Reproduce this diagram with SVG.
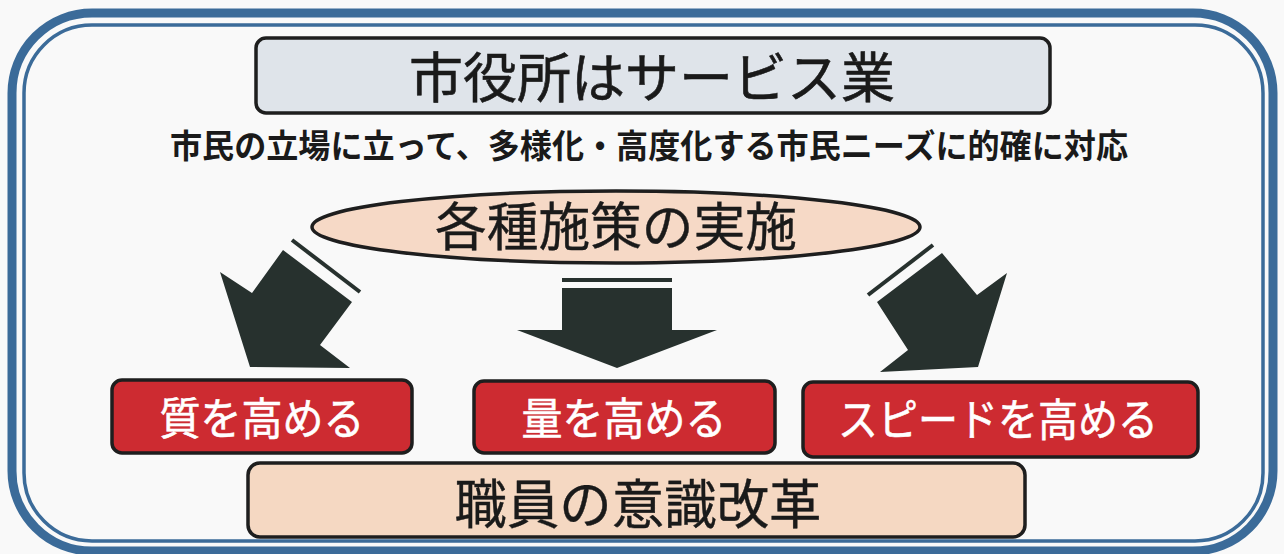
<svg xmlns="http://www.w3.org/2000/svg" width="1284" height="554" viewBox="0 0 1284 554">
<style>
.jp{font-family:"Noto Sans CJK JP","Noto Sans CJK SC",sans-serif;}
.box{stroke:#1e1e1e;stroke-width:3.5;}
.red{fill:#cd2b31;}
.wt{fill:#ffffff;font-size:44px;}
.arrow{fill:#27312e;}
.bar{stroke:#27312e;stroke-width:4;}
</style>
<rect x="0" y="0" width="1284" height="554" fill="#f9f9f9"/>
<g id="frame" fill="none" stroke="#3b6b99">
<rect x="12" y="13" width="1261" height="538" rx="80" stroke-width="9"/>
<rect x="24" y="25" width="1239" height="516" rx="68" stroke-width="3.5"/>
</g>
<g id="title">
<rect class="box" x="256" y="38" width="794" height="75" rx="10" fill="#dfe4ea"/>
<text class="jp" x="652" y="98" font-size="54" text-anchor="middle" fill="#1a1a1a" stroke="#1a1a1a" stroke-width="0.6" textLength="486" lengthAdjust="spacingAndGlyphs">市役所はサービス業</text>
</g>
<g id="subtitle">
<text class="jp" x="649" y="158" font-size="33" style="font-weight:bold" text-anchor="middle" fill="#1a1a1a" textLength="958" lengthAdjust="spacingAndGlyphs">市民の立場に立って、多様化・高度化する市民ニーズに的確に対応</text>
</g>
<g id="measures">
<ellipse class="box" cx="616" cy="227" rx="304" ry="36" fill="#f6d9c6" stroke-width="3"/>
<text class="jp" x="616" y="246" font-size="52" text-anchor="middle" fill="#1a1a1a" stroke="#1a1a1a" stroke-width="0.4" textLength="362" lengthAdjust="spacingAndGlyphs">各種施策の実施</text>
</g>
<g id="connectors">
<line class="bar" x1="292" y1="240" x2="360" y2="292"/>
<polygon class="arrow" points="283,250 352,302 320,345 350,368 250,367 220,272 252,293"/>
<line class="bar" x1="562" y1="280" x2="672" y2="280" stroke-width="3"/>
<polygon class="arrow" points="562,288 672,288 672,330 717,330 617,368 517,330 562,330"/>
<line class="bar" x1="868" y1="295" x2="933" y2="245"/>
<polygon class="arrow" points="942,253 977,295 1007,273 978,367 880,372 908,350 877,302"/>
</g>
<g id="quality">
<rect class="box red" x="112" y="380" width="300" height="73" rx="10"/>
<text class="jp wt" x="262" y="435" text-anchor="middle" stroke="#ffffff" stroke-width="0.6" textLength="205" lengthAdjust="spacingAndGlyphs">質を高める</text>
</g>
<g id="quantity">
<rect class="box red" x="474" y="381" width="301" height="72" rx="10"/>
<text class="jp wt" x="624" y="435" text-anchor="middle" stroke="#ffffff" stroke-width="0.6" textLength="205" lengthAdjust="spacingAndGlyphs">量を高める</text>
</g>
<g id="speed">
<rect class="box red" x="803" y="382" width="395" height="75" rx="10"/>
<text class="jp wt" x="998" y="436" text-anchor="middle" stroke="#ffffff" stroke-width="0.6" textLength="320" lengthAdjust="spacingAndGlyphs">スピードを高める</text>
</g>
<g id="staff">
<rect class="box" x="248" y="463" width="777" height="74" rx="12" fill="#f5d8c2" stroke-width="4"/>
<text class="jp" x="638" y="524" font-size="53" text-anchor="middle" fill="#1a1a1a" stroke="#1a1a1a" stroke-width="0.4" textLength="367" lengthAdjust="spacingAndGlyphs">職員の意識改革</text>
</g>
</svg>
